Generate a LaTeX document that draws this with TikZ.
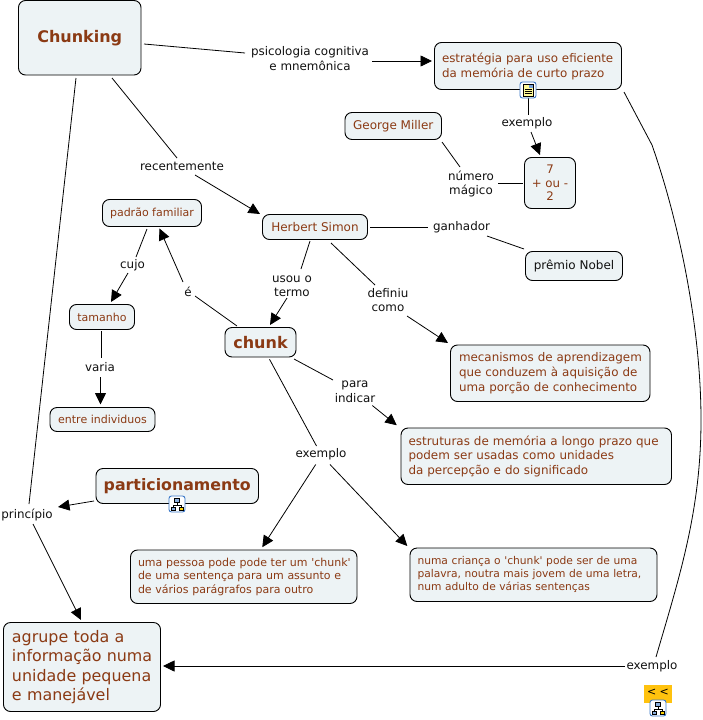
\documentclass[tikz,border=0pt]{standalone}
\usepackage{fontspec}
\setmainfont{DejaVu Sans}[Ligatures=TeXOff]
\usetikzlibrary{arrows.meta,calc}
\definecolor{boxfill}{HTML}{EDF3F5}
\definecolor{txt}{HTML}{8B3A14}
\definecolor{lbl}{HTML}{111111}
\definecolor{goldbox}{HTML}{FFC20E}
\definecolor{iconblue}{HTML}{3B78C8}
\tikzset{
  concept/.style={draw=black,line width=0.9pt,fill=boxfill,rounded corners=7pt,text=txt,align=center,inner sep=0pt,outer sep=0pt,font=\fontsize{12}{15}\selectfont},
  smalltext/.style={font=\fontsize{11}{14}\selectfont},
  linklabel/.style={text=lbl,align=center,inner sep=0pt,outer sep=0pt,font=\fontsize{11.9}{14.5}\selectfont},
  link/.style={line width=0.8pt,draw=black},
  arrowlink/.style={link,-{Triangle[length=11.5pt,width=11pt]}},
}
% box with centred text: [style] name x0 y0 x1 y1 text
\newcommand{\cbox}[7][concept]{%
  \node[#1,minimum width=\the\dimexpr#5pt-#3pt\relax,minimum height=\the\dimexpr#6pt-#4pt\relax,anchor=north west] (#2) at (#3,#4) {#7};}
% box with left-aligned text: [style] name x0 y0 x1 y1 padding text
\newcommand{\lbox}[8][concept]{%
  \node[concept,#1,align=left,inner xsep=#7pt,text width=\the\dimexpr#5pt-#3pt-#7pt-#7pt\relax,minimum height=\the\dimexpr#6pt-#4pt\relax,anchor=north west] (#2) at (#3,#4) {#8};}
% connector from node to node, each end offset from the node's centre
\newcommand{\conn}[7]{\draw[#1] ([shift={(#3,#4)}]#2.center) -- ([shift={(#6,#7)}]#5.center);}
\newcommand{\iconframe}[2]{\draw[iconblue,line width=0.9pt,fill=white,rounded corners=2.5pt] (#1-8,#2-8) rectangle (#1+8,#2+8);}
\newcommand{\treeicon}[2]{\iconframe{#1}{#2}
  \draw[black,line width=0.6pt] (#1,#2-2) -- (#1,#2+1) (#1-4,#2+3) -- (#1-4,#2+1) -- (#1+4,#2+1) -- (#1+4,#2+3);
  \draw[black,line width=0.4pt,fill=iconblue!60] (#1-2.5,#2-6) rectangle (#1+2.5,#2-2);
  \draw[black,line width=0.4pt,fill=iconblue!60] (#1-6,#2+3) rectangle (#1-2,#2+6.5);
  \draw[black,line width=0.4pt,fill=yellow!70!orange] (#1+2,#2+3) rectangle (#1+6,#2+6.5);}
\begin{document}
\begin{tikzpicture}[x=1pt,y=-1pt]
\useasboundingbox (0,0) rectangle (702,720);
\fill[white] (0,0) rectangle (702,720);
% concepts
\cbox{chunking}{18.5}{0.5}{141}{75}{\raisebox{-2pt}{\fontsize{16}{20}\selectfont\bfseries Chunking}}
\lbox[font=\fontsize{11.85}{15}\selectfont]{estrategia}{434.5}{42.5}{621.5}{89.5}{7.5}{\mbox{estratégia para uso eficiente}\\\mbox{da memória de curto prazo}}
\cbox{miller}{345}{112.5}{441.5}{139.5}{George Miller}
\cbox[concept,font=\fontsize{11.8}{13.5}\selectfont]{seven}{524.5}{157.5}{575.5}{208.5}{7\\+ ou -\\2}
\cbox[concept,text=lbl]{nobel}{525.5}{251.5}{622.5}{280.5}{prêmio Nobel}
\cbox{simon}{262.5}{214.5}{367.5}{239.5}{Herbert Simon}
\cbox[concept,smalltext]{padrao}{102.5}{199.5}{201.5}{226.5}{padrão familiar}
\cbox[concept,smalltext]{tamanho}{69.5}{304.5}{134.5}{329.5}{tamanho}
\cbox[concept,font=\fontsize{16}{18}\selectfont\bfseries]{chunk}{225}{327.5}{296}{357}{chunk}
\cbox[concept,smalltext]{entre}{50}{407.5}{155}{431.5}{entre individuos}
\lbox[font=\fontsize{11.9}{15}\selectfont]{mec}{450.5}{345}{650}{401.5}{8.5}{\mbox{mecanismos de aprendizagem}\\\mbox{que conduzem à aquisição de}\\\mbox{uma porção de conhecimento}}
\lbox[font=\fontsize{11.95}{14.5}\selectfont]{estrut}{401}{428}{671.5}{484.5}{7.5}{\mbox{estruturas de memória a longo prazo que}\\\mbox{podem ser usadas como unidades}\\\mbox{da percepção e do significado}}
\cbox[concept,font=\fontsize{15.8}{20}\selectfont\bfseries]{part}{96}{468.5}{258.5}{503.5}{\raisebox{3pt}{particionamento}}
\lbox[font=\fontsize{11}{13.3}\selectfont]{pessoa}{130.5}{550}{357}{603.5}{7.5}{\mbox{uma pessoa pode pode ter um 'chunk'}\\\mbox{de uma sentença para um assunto e}\\\mbox{de vários parágrafos para outro}}
\lbox[font=\fontsize{10.7}{13}\selectfont]{crianca}{410}{548}{657}{601.5}{7.5}{\mbox{numa criança o 'chunk' pode ser de uma}\\\mbox{palavra, noutra mais jovem de uma letra,}\\\mbox{num adulto de várias sentenças}}
\lbox[font=\fontsize{15.9}{19.3}\selectfont]{agrupe}{3.5}{622.5}{160.5}{711.5}{8.5}{\mbox{agrupe toda a}\\\mbox{informação numa}\\\mbox{unidade pequena}\\\mbox{e manejável}}
% link labels
\node[linklabel] (lpsi) at (310,58.5) {psicologia cognitiva\\e mnemônica};
\node[linklabel] (lrec) at (182,166) {recentemente};
\node[linklabel] (lex1) at (527,123) {exemplo};
\node[linklabel] (lnum) at (471,184) {número\\mágico};
\node[linklabel] (lgan) at (461.5,227) {ganhador};
\node[linklabel] (lcujo) at (132.5,265) {cujo};
\node[linklabel] (le) at (188,291.5) {é};
\node[linklabel] (lusou) at (292,286) {usou o\\termo};
\node[linklabel] (ldef) at (388,300) {definiu\\como};
\node[linklabel] (lvar) at (100,367) {varia};
\node[linklabel] (lpara) at (355,391.5) {para\\indicar};
\node[linklabel] (lex2) at (321,454.5) {exemplo};
\node[linklabel] (lpri) at (27,515) {princípio};
\node[linklabel] (lex3) at (652,666) {exemplo};
% connectors
\conn{link}{chunking}{64.25}{6.25}{lpsi}{-65}{-5.5}
\conn{arrowlink}{lpsi}{62}{2.5}{estrategia}{-96}{-5}
\conn{link}{chunking}{32.25}{40.25}{lrec}{-5}{-8}
\conn{arrowlink}{lrec}{13}{9}{simon}{-55}{-13}
\conn{link}{chunking}{-3.75}{40.25}{lpri}{2}{-11}
\conn{arrowlink}{lpri}{6}{9}{agrupe}{-1}{-47}
\conn{arrowlink}{part}{-83.25}{15}{lpri}{31}{-8}
\conn{link}{estrategia}{0}{32}{lex1}{1}{-8}
\conn{arrowlink}{lex1}{4}{9}{seven}{-10}{-28}
\conn{link}{miller}{48.75}{16}{lnum}{-11}{-17}
\conn{link}{lnum}{27}{-1}{seven}{-27}{0}
\conn{link}{simon}{55}{0}{lgan}{-33.5}{0}
\conn{link}{lgan}{25.5}{9}{nobel}{-50}{-17}
\conn{link}{simon}{-5}{14}{lusou}{9}{-17}
\conn{arrowlink}{lusou}{-5}{12}{chunk}{9.5}{-17.25}
\conn{link}{simon}{16}{16}{ldef}{-13}{-15}
\conn{arrowlink}{ldef}{19}{16}{mec}{-102.25}{-30.25}
\conn{link}{chunk}{-23.5}{-16.25}{le}{7}{4.5}
\conn{arrowlink}{le}{-5}{-9.5}{padrao}{7.5}{15.5}
\conn{link}{padrao}{-5}{16}{lcujo}{3.5}{-8}
\conn{arrowlink}{lcujo}{-4.5}{8}{tamanho}{9}{-15}
\conn{link}{tamanho}{-1}{14}{lvar}{1}{-9}
\conn{arrowlink}{lvar}{0.5}{10}{entre}{-2}{-15}
\conn{link}{chunk}{33.5}{16.75}{lpara}{-22}{-11.5}
\conn{arrowlink}{lpara}{17.3}{14}{estrut}{-139.5}{-31}
\conn{link}{chunk}{9}{17}{lex2}{-4.5}{-8.5}
\conn{arrowlink}{lex2}{-5.3}{10}{pessoa}{18.5}{-29.5}
\conn{arrowlink}{lex2}{9}{10}{crianca}{-126.2}{-28.75}
\draw[link] ([shift={(96,26)}]estrategia.center) -- (652,145) .. controls (680,225) and (701,330) .. (701,420) .. controls (701,510) and (680,575) .. ([shift={(4,-9)}]lex3.center);
\conn{arrowlink}{lex3}{-27}{0}{agrupe}{81}{-1}
% icons
\iconframe{528}{90}
\draw[black,fill=yellow!40,line width=0.5pt] (523.5,84) rectangle (533,96);
\foreach \yy in {89.5,91.5,93.5}{\draw[black,line width=0.5pt] (524.5,\yy) -- (532,\yy);}
\fill[iconblue!70] (528.5,84.5) rectangle (532.5,88);
\treeicon{177}{504}
\fill[goldbox] (644,685) rectangle (672,703);
\node[text=black,inner sep=0pt,font=\fontsize{11}{13}\selectfont] (back) at (658,692.5) {< <};
\treeicon{658}{708}
\end{tikzpicture}
\end{document}
